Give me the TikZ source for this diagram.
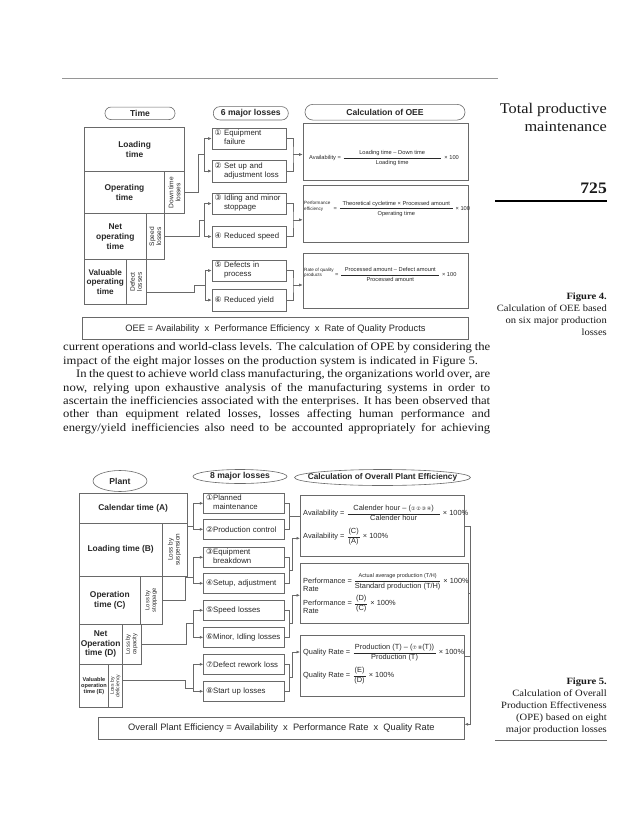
\documentclass[tikz,border=0pt]{standalone}
\usepackage{fontspec}
\setmainfont{Liberation Serif}[FakeStretch=1.1]
\newfontfamily\figfont{Liberation Sans}
\newfontfamily\circfont{DejaVu Sans}
\usepackage{amsmath}
\usepackage{graphicx}
\usetikzlibrary{arrows.meta, positioning, shapes.geometric}
\definecolor{figline}{RGB}{105,105,105}
\definecolor{figtext}{RGB}{40,40,40}
\definecolor{rulegray}{RGB}{150,150,150}
\definecolor{bodytext}{RGB}{25,25,25}

\newcommand{\cnum}[1]{{\circfont #1}}
\newcommand{\calcfrac}[3]{$\dfrac{\makebox[#1]{#2}}{\makebox[#1]{#3}}$}
\newcommand{\vtext}[2]{\rotatebox{90}{\parbox{#1}{\centering #2}}}
\newcommand{\twoline}[2][t]{\begin{tabular}[#1]{@{}l@{}}#2\end{tabular}}
\newcommand{\jline}[2][427pt]{\makebox[#1][s]{#2}}

\begin{document}
\begin{tikzpicture}[x=1pt, y=-1pt,
  pill/.style={draw=figline, line width=0.6pt, inner sep=0pt, text=figtext,
               font=\figfont\bfseries\fontsize{8.6}{10}\selectfont},
  oval/.style={ellipse, draw=figline, line width=0.6pt, inner sep=0pt, text=figtext,
               font=\figfont\bfseries\fontsize{8.6}{10}\selectfont},
  timebox/.style={draw=figline, line width=0.6pt, anchor=north west, inner sep=0pt,
                  align=center, text=figtext, font=\figfont\bfseries\fontsize{8.4}{9.6}\selectfont},
  stripbox/.style={draw=figline, line width=0.6pt, anchor=north west, inner sep=0pt,
                   text=figtext, font=\figfont\fontsize{6.6}{7}\selectfont},
  lossbox/.style={draw=figline, line width=0.6pt, anchor=north west, inner xsep=2.5pt,
                  inner ysep=0pt, text width=69pt, minimum height=21.5pt, align=left,
                  text=figtext, font=\figfont\fontsize{7.8}{8.6}\selectfont},
  calcbox/.style={draw=figline, line width=0.6pt, anchor=north west, inner sep=0pt},
  resultbox/.style={calcbox, text=figtext, font=\figfont\fontsize{9.3}{11}\selectfont},
  formula/.style={anchor=base west, inner sep=0pt, text=figtext},
  conn/.style={draw=figline, line width=0.6pt},
  arr/.style={conn, -{Latex[length=3.5pt, width=3pt]}},
  bodyline/.style={anchor=base west, inner sep=0pt, text=bodytext,
                   font=\fontsize{11.5}{13.4}\selectfont},
  sideline/.style={anchor=base east, inner sep=0pt, text=bodytext,
                   font=\fontsize{9.6}{12}\selectfont}
]
\fill[white] (0,0) rectangle (638,836);
\useasboundingbox (0,0) rectangle (638,836);

% page header and side column
\draw[rulegray, line width=0.7pt] (62,78) -- (498,78);
\node[sideline, font=\fontsize{14.8}{18}\selectfont] (runhead1) at (607,113) {Total productive};
\node[sideline, font=\fontsize{14.8}{18}\selectfont] (runhead2) at (607,131) {maintenance};
\node[sideline, font=\bfseries\fontsize{16}{18}\selectfont] (pageno) at (607,193.5) {725};
\draw[black, line width=1.2pt] (495,201) -- (607,201);

\node[sideline, font=\bfseries\fontsize{9.6}{12}\selectfont] (cap4a) at (607,299) {Figure 4.};
\node[sideline] (cap4b) at (607,311) {Calculation of OEE based};
\node[sideline] (cap4c) at (607,323) {on six major production};
\node[sideline] (cap4d) at (607,335) {losses};

\node[sideline, font=\bfseries\fontsize{9.6}{12}\selectfont] (cap5a) at (607,684) {Figure 5.};
\node[sideline] (cap5b) at (607,696) {Calculation of Overall};
\node[sideline] (cap5c) at (607,708) {Production Effectiveness};
\node[sideline] (cap5d) at (607,720) {(OPE) based on eight};
\node[sideline] (cap5e) at (607,732) {major production losses};
\draw[figline, line width=0.7pt] (495,740) -- (607,740);

%%% Figure 4: OEE
\node[pill, rounded corners=6pt, minimum width=70pt, minimum height=12.5pt] (timep) at (140,113.3) {Time};
\node[pill, rounded corners=6.5pt, minimum width=75pt, minimum height=13.3pt] (loss6p) at (250.8,113.3) {6 major losses};
\node[pill, rounded corners=7.8pt, minimum width=160pt, minimum height=15.7pt] (oeep) at (385,112.2) {Calculation of OEE};

% time columns
\node[timebox, minimum width=100pt, minimum height=43.7pt] (load) at (84.3,127.3) {Loading\\time};
\node[timebox, minimum width=79.7pt, minimum height=42.3pt] (oper) at (84.3,171) {Operating\\time};
\node[stripbox, minimum width=20.3pt, minimum height=42.3pt] (dtl) at (164,171) {\vtext{40pt}{Down time\\losses}};
\node[timebox, minimum width=61.4pt, minimum height=46pt] (netop) at (84.3,213.3) {Net\\operating\\time};
\node[stripbox, minimum width=18.6pt, minimum height=46pt] (spl) at (145.7,213.3) {\vtext{40pt}{Speed\\losses}};
\node[timebox, minimum width=41.4pt, minimum height=44.7pt, font=\figfont\bfseries\fontsize{8.2}{9.4}\selectfont] (valop) at (84.3,259.3) {Valuable\\operating\\time};
\node[stripbox, minimum width=20pt, minimum height=44.7pt] (dfl) at (125.7,259.3) {\vtext{40pt}{Defect\\losses}};

% six losses
\node[lossbox] (l1) at (211.7,127.5) {\cnum{①} \twoline{Equipment\\failure}};
\node[lossbox] (l2) at (211.7,160) {\cnum{②} \twoline{Set up and\\adjustment loss}};
\node[lossbox] (l3) at (211.7,192.5) {\cnum{③} \twoline{Idling and minor\\stoppage}};
\node[lossbox] (l4) at (211.7,225.5) {\cnum{④} Reduced speed};
\node[lossbox] (l5) at (211.7,259.5) {\cnum{⑤} \twoline{Defects in\\process}};
\node[lossbox] (l6) at (211.7,289) {\cnum{⑥} Reduced yield};

% calculation boxes
\node[calcbox, minimum width=165.6pt, minimum height=56.7pt] (avail) at (302.7,123.3) {};
\node[calcbox, minimum width=165.6pt, minimum height=57.3pt] (perf) at (302.7,185) {};
\node[calcbox, minimum width=165.6pt, minimum height=55.6pt] (qual) at (302.7,252.7) {};
\node[formula, font=\figfont\fontsize{5.7}{6.5}\selectfont] (favail) at (309,159.7)
  {Availability = \calcfrac{97pt}{Loading time – Down time}{Loading time}\, × 100};
\node[formula, font=\figfont\fontsize{5.7}{6.5}\selectfont] (fperf) at (304,210)
  {{\fontsize{4.6}{5.2}\selectfont\twoline[b]{Performance\\efficiency}}\ \ = \calcfrac{113pt}{Theoretical cycletime × Processed amount}{Operating time} × 100};
\node[formula, font=\figfont\fontsize{5.7}{6.5}\selectfont] (fqual) at (304,276.7)
  {{\fontsize{4.6}{5.2}\selectfont\twoline[b]{Rate of quality\\products}} = \calcfrac{98pt}{Processed amount – Defect amount}{Processed amount} × 100};

\node[resultbox, minimum width=386.3pt, minimum height=22pt] (oee) at (82,317.3)
  {OEE = Availability\ \ x\ \ Performance Efficiency\ \ x\ \ Rate of Quality Products};

% connectors, figure 4
\coordinate (j12) at (204,154.5);
\coordinate (j34) at (204,219.8);
\coordinate (j56) at (205,285);
\draw[conn] (dtl.east) -- ++(13.5,0) |- (j12);
\draw[arr] (j12) |- (l1.west);
\draw[arr] (j12) |- (l2.west);
\draw[conn] (spl.east) -- ++(34,0) |- (j34);
\draw[arr] (j34) |- (l3.west);
\draw[arr] (j34) |- (l4.west);
\draw[conn] ([yshift=-10pt]dfl.east) -- ++(47.6,0) |- (j56);
\draw[arr] (j56) |- (l5.west);
\draw[arr] (j56) |- (l6.west);

\coordinate (k12) at (293,154.5);
\coordinate (k34) at (293,219.8);
\coordinate (k56) at (293,285);
\draw[conn] (l1.east) -| (k12) |- (l2.east);
\draw[arr] (k12) -- (k12 -| avail.west);
\draw[conn] (l3.east) -| (k34) |- (l4.east);
\draw[arr] (k34) -- (k34 -| perf.west);
\draw[conn] (l5.east) -| (k56) |- (l6.east);
\draw[arr] (k56) -- (k56 -| qual.west);

%%% body text
\node[bodyline] (txt1) at (63,350.8) {\jline{current operations and world-class levels. The calculation of OPE by considering the}};
\node[bodyline] (txt2) at (63,364.2) {impact of the eight major losses on the production system is indicated in Figure 5.};
\node[bodyline] (txt3) at (76,377.6) {\jline[414pt]{In the quest to achieve world class manufacturing, the organizations world over, are}};
\node[bodyline] (txt4) at (63,391) {\jline{now, relying upon exhaustive analysis of the manufacturing systems in order to}};
\node[bodyline] (txt5) at (63,404.4) {\jline{ascertain the inefficiencies associated with the enterprises. It has been observed that}};
\node[bodyline] (txt6) at (63,417.8) {\jline{other than equipment related losses, losses affecting human performance and}};
\node[bodyline] (txt7) at (63,431.2) {\jline{energy/yield inefficiencies also need to be accounted appropriately for achieving}};

%%% Figure 5: OPE
\node[oval, minimum width=54pt, minimum height=21pt] (plantp) at (120,481) {\makebox[0pt]{Plant}};
\node[oval, minimum width=94pt, minimum height=14pt] (loss8p) at (240,476.5) {\makebox[0pt]{8 major losses}};
\node[oval, minimum width=176pt, minimum height=16pt, font=\figfont\bfseries\fontsize{8.3}{10}\selectfont] (opep) at (382.5,477.5) {\makebox[0pt]{Calculation of Overall Plant Efficiency}};

% plant time columns
\node[timebox, minimum width=107.7pt, minimum height=30pt] (calA) at (79,492.7) {Calendar time (A)};
\node[timebox, minimum width=82.7pt, minimum height=53.3pt] (loadB) at (79,522.7) {Loading time (B)};
\node[stripbox, minimum width=25pt, minimum height=53.3pt, font=\figfont\fontsize{6.4}{7}\selectfont] (sus) at (161.7,522.7) {\vtext{50pt}{Loss by\\suspension}};
\node[timebox, minimum width=61pt, minimum height=48pt] (opC) at (79,576) {Operation\\time (C)};
\node[stripbox, minimum width=21.7pt, minimum height=48pt, font=\figfont\fontsize{5.8}{6.4}\selectfont] (stp) at (140,576) {\vtext{44pt}{Loss by\\stoppage}};
\node[timebox, minimum width=42.7pt, minimum height=40pt] (netD) at (79,624) {Net\\Operation\\time (D)};
\node[stripbox, minimum width=19.3pt, minimum height=40pt, font=\figfont\fontsize{5.8}{6.4}\selectfont] (cap) at (121.7,624) {\vtext{38pt}{Loss by\\capacity}};
\node[timebox, minimum width=29.3pt, minimum height=43.3pt, font=\figfont\bfseries\fontsize{5.6}{6.4}\selectfont] (valE) at (79,664) {Valuable\\operation\\time (E)};
\node[stripbox, minimum width=13.4pt, minimum height=43.3pt, font=\figfont\fontsize{5.1}{5.6}\selectfont] (dfc) at (108.3,664) {\vtext{40pt}{Loss by\\deficiency}};

% eight losses
\node[lossbox, text width=76pt, minimum height=20pt] (m1) at (203.3,493) {\cnum{①}\twoline{Planned\\maintenance}};
\node[lossbox, text width=76pt, minimum height=20pt] (m2) at (203.3,519) {\cnum{②}Production control};
\node[lossbox, text width=76pt, minimum height=20pt] (m3) at (203.3,547) {\cnum{③}\twoline{Equipment\\breakdown}};
\node[lossbox, text width=76pt, minimum height=20pt] (m4) at (203.3,573) {\cnum{④}Setup, adjustment};
\node[lossbox, text width=76pt, minimum height=20pt] (m5) at (203.3,600) {\cnum{⑤}Speed losses};
\node[lossbox, text width=76pt, minimum height=20pt] (m6) at (203.3,627) {\cnum{⑥}Minor, Idling losses};
\node[lossbox, text width=76pt, minimum height=20pt] (m7) at (203.3,654) {\cnum{⑦}Defect rework loss};
\node[lossbox, text width=76pt, minimum height=20pt] (m8) at (203.3,681) {\cnum{⑧}Start up losses};

% efficiency boxes
\node[calcbox, minimum width=164pt, minimum height=61pt] (av) at (300,495) {};
\node[calcbox, minimum width=168.3pt, minimum height=60pt] (pf) at (300,563) {};
\node[calcbox, minimum width=164pt, minimum height=61pt] (qr) at (300,635) {};
\node[formula, font=\figfont\fontsize{7.4}{8.4}\selectfont] (av1) at (303,515.5)
  {Availability = \calcfrac{92pt}{Calender hour – ({\circfont\fontsize{5}{6}\selectfont ①\,②\,③\,④})}{Calender hour} × 100\%};
\node[formula, font=\figfont\fontsize{7.4}{8.4}\selectfont] (av2) at (303,538.5)
  {Availability = \calcfrac{12pt}{(C)}{(A)} × 100\%};
\node[formula, font=\figfont\fontsize{7.4}{8.4}\selectfont] (pf1) at (303,583)
  {\twoline{Performance\\Rate} = \calcfrac{85pt}{\fontsize{5.5}{6}\selectfont Actual average production (T/H)}{Standard production (T/H)} × 100\%};
\node[formula, font=\figfont\fontsize{7.4}{8.4}\selectfont] (pf2) at (303,605.5)
  {\twoline{Performance\\Rate} = \calcfrac{12pt}{(D)}{(C)} × 100\%};
\node[formula, font=\figfont\fontsize{7.4}{8.4}\selectfont] (qr1) at (303,654.5)
  {Quality Rate = \calcfrac{82pt}{Production (T) – ({\circfont\fontsize{5}{6}\selectfont ⑦\,⑧}(T))}{Production (T)} × 100\%};
\node[formula, font=\figfont\fontsize{7.4}{8.4}\selectfont] (qr2) at (303,677.5)
  {Quality Rate = \calcfrac{12pt}{(E)}{(D)} × 100\%};

\node[resultbox, minimum width=365.7pt, minimum height=22pt] (ope) at (98.3,717)
  {Overall Plant Efficiency = Availability\ \ x\ \ Performance Rate\ \ x\ \ Quality Rate};

% connectors, figure 5
\coordinate (jb12) at (193,516);
\coordinate (jb34) at (193,577);
\coordinate (jb56) at (193,623.5);
\coordinate (jb78) at (193,688);
\draw[conn] ([yshift=-4pt]sus.north east) -- ([yshift=-4pt]sus.north east -| jb12);
\draw[arr] (jb12) |- (m1.west);
\draw[arr] (jb12) |- (m2.west);
\draw[conn] (stp.east) -- ++(23.3,0) |- (jb34);
\draw[arr] (jb34) |- (m3.west);
\draw[arr] (jb34) |- (m4.west);
\draw[conn] (cap.east) -- ++(45,0) |- (jb56);
\draw[arr] (jb56) |- (m5.west);
\draw[arr] (jb56) |- (m6.west);
\draw[conn] ([yshift=6pt]dfc.east) -- ++(63.3,0) |- (jb78);
\draw[arr] (jb78) |- (m7.west);
\draw[arr] (jb78) |- (m8.west);

\coordinate (kb12) at (289.3,516);
\coordinate (kb34) at (289.3,570);
\coordinate (kb56) at (289.3,623.5);
\coordinate (kb78) at (289.3,677.5);
\draw[conn] (m1.east) -| (kb12) |- (m2.east);
\draw[conn] (kb12) -- (kb12 -| av.west);
\draw[conn] (m3.east) -| (kb34) |- (m4.east);
\draw[arr] (kb34) -- ++(2.7,0) |- ([yshift=-12.5pt]av.west);
\draw[conn] (m5.east) -| (kb56) |- (m6.east);
\draw[arr] (kb56) -- ++(2.7,0) |- ([yshift=-2pt]pf.west);
\draw[conn] (m7.east) -| (kb78) |- (m8.east);
\draw[arr] (kb78) -- ++(2.7,0) |- ([yshift=13.8pt]qr.west);

\draw[arr] (av.east) -- ++(6,0) |- ([yshift=4pt]ope.east);
\draw[conn] (pf.east) -- ++(1.7,0);
\draw[conn] ([yshift=9.5pt]qr.east) -- ++(6,0);

\end{tikzpicture}
\end{document}
